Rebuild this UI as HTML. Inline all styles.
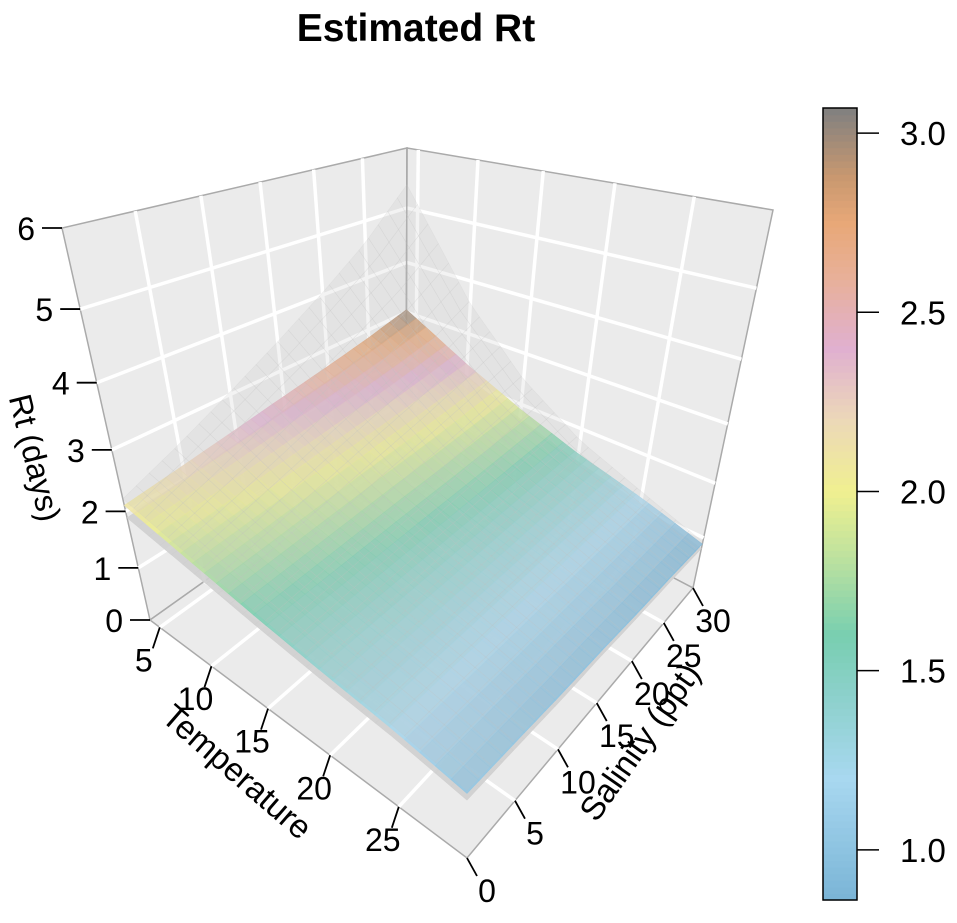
<!DOCTYPE html>
<html><head><meta charset="utf-8"><style>
body{margin:0;background:#fff;}
svg{display:block;font-family:"Liberation Sans",sans-serif;}
</style></head><body>
<svg id="chart" width="957" height="923" viewBox="0 0 957 923">
<text x="416" y="41" text-anchor="middle" font-size="39" font-weight="bold">Estimated Rt</text>
<g id="box"></g>
<g id="surf"></g>
<g id="axes"></g>
<g id="cbar"></g>
</svg>
<script>
// ---- data ----
const tempGrid = [4, 10, 15, 20, 25, 29.5];
const salGrid = [0, 5, 10, 15, 20, 25, 30];
// rows indexed by salinity, columns by temperature
const rtS0  = [2.10,1.81,1.58,1.38,1.21,1.01];
const rtS5  = [2.23,1.89,1.63,1.40,1.21,0.99];
const rtS10 = [2.37,1.98,1.68,1.42,1.20,0.96];
const rtS15 = [2.52,2.07,1.73,1.44,1.20,0.95];
const rtS20 = [2.67,2.15,1.77,1.46,1.20,0.92];
const rtS25 = [2.84,2.25,1.83,1.48,1.20,0.91];
const rtS30 = [3.05,2.37,1.89,1.50,1.20,0.88];
const upS0  = [2.21,1.90,1.66,1.45,1.27,1.06];
const upS5  = [2.60,2.12,1.78,1.50,1.28,1.04];
const upS10 = [3.04,2.37,1.91,1.55,1.28,1.01];
const upS15 = [3.52,2.63,2.04,1.60,1.29,1.00];
const upS20 = [4.04,2.89,2.17,1.66,1.29,0.97];
const upS25 = [4.63,3.19,2.32,1.71,1.30,0.96];
const upS30 = [5.40,3.58,2.50,1.77,1.31,0.92];
const loS0  = [1.89,1.63,1.42,1.24,1.09,0.91];
const loS5  = [2.01,1.70,1.47,1.26,1.09,0.89];
const loS10 = [2.13,1.78,1.51,1.28,1.08,0.86];
const loS15 = [2.27,1.86,1.56,1.30,1.08,0.86];
const loS20 = [2.40,1.94,1.59,1.31,1.08,0.83];
const loS25 = [2.56,2.03,1.65,1.33,1.08,0.82];
const loS30 = [2.75,2.13,1.70,1.35,1.08,0.79];
const zTicks = [0,1,2,3,4,5,6];
const tTicks = [5,10,15,20,25];
const sTicks = [0,5,10,15,20,25,30];
const cbTicks = ["1.0","1.5","2.0","2.5","3.0"];
const rtGrid = [rtS0,rtS5,rtS10,rtS15,rtS20,rtS25,rtS30];
const upGrid = [upS0,upS5,upS10,upS15,upS20,upS25,upS30];
const loGrid = [loS0,loS5,loS10,loS15,loS20,loS25,loS30];

const NS="http://www.w3.org/2000/svg";
function mk(tag,attrs,parent){const e=document.createElementNS(NS,tag);for(const k in attrs)e.setAttribute(k,attrs[k]);parent.appendChild(e);return e;}

// ---- projection ----
const Tmin=4,Tmax=29.5,Smax=30,Zmax=6;
const Lf=[150,620],Ff=[467,858],Rf=[693,588],Bf=[406,438];
const Lt=[62,228],Ft=[467,378],Rt=[773,210],Bt=[407,148];
function bil(a,b,c,d,u,v){return [(1-u)*(1-v)*a[0]+u*(1-v)*b[0]+u*v*c[0]+(1-u)*v*d[0],(1-u)*(1-v)*a[1]+u*(1-v)*b[1]+u*v*c[1]+(1-u)*v*d[1]];}
function warp(f,a){return f/(a-(a-1)*f);}
function P(T,S,z){
  const u=warp((T-Tmin)/(Tmax-Tmin),1.279),v=warp(S/Smax,0.742);
  const f=bil(Lf,Ff,Rf,Bf,u,v),t=bil(Lt,Ft,Rt,Bt,u,v);
  const g=warp(z/Zmax,1.304);
  return [f[0]+g*(t[0]-f[0]),f[1]+g*(t[1]-f[1])];
}
function pts(a){return a.map(p=>p[0].toFixed(1)+","+p[1].toFixed(1)).join(" ");}

// ---- box ----
const box=document.getElementById('box');
let e;
e=mk('polygon',{points:pts([P(Tmin,0,0),P(Tmin,Smax,0),P(Tmin,Smax,6),P(Tmin,0,6)]),fill:'#ebebeb',stroke:'#aaa','stroke-width':1.5},box);

e=mk('polygon',{points:pts([P(Tmin,Smax,0),P(Tmax,Smax,0),P(Tmax,Smax,6),P(Tmin,Smax,6)]),fill:'#ebebeb',stroke:'#aaa','stroke-width':1.5},box);

e=mk('polygon',{points:pts([P(Tmin,0,0),P(Tmax,0,0),P(Tmax,Smax,0),P(Tmin,Smax,0)]),fill:'#ebebeb',stroke:'#aaa','stroke-width':1.5},box);

function gl(a,b,name){const l=mk('line',{x1:a[0],y1:a[1],x2:b[0],y2:b[1],stroke:'#fff','stroke-width':3.5},box);}
for(let z=1;z<6;z++){gl(P(Tmin,0,z),P(Tmin,Smax,z),'left-wall-grid');gl(P(Tmin,Smax,z),P(Tmax,Smax,z),'right-wall-grid');}
for(let s=5;s<30;s+=5){gl(P(Tmin,s,0),P(Tmin,s,6),'left-wall-grid');gl(P(Tmin,s,0),P(Tmax,s,0),'floor-grid');}
for(let t=5;t<=25;t+=5){gl(P(t,Smax,0),P(t,Smax,6),'right-wall-grid');gl(P(t,0,0),P(t,Smax,0),'floor-grid');}
e=mk('line',{x1:P(Tmin,Smax,0)[0],y1:P(Tmin,Smax,0)[1],x2:P(Tmin,Smax,6)[0],y2:P(Tmin,Smax,6)[1],stroke:'#aaa','stroke-width':1.5},box);


// ---- surfaces ----
function interp(grid,T,S){
  let i=0;while(i<tempGrid.length-2&&T>tempGrid[i+1])i++;
  let j=0;while(j<salGrid.length-2&&S>salGrid[j+1])j++;
  const a=(T-tempGrid[i])/(tempGrid[i+1]-tempGrid[i]),b=(S-salGrid[j])/(salGrid[j+1]-salGrid[j]);
  return (1-a)*(1-b)*grid[j][i]+a*(1-b)*grid[j][i+1]+a*b*grid[j+1][i+1]+(1-a)*b*grid[j+1][i];
}
const cstops=[[0.86,[122,180,214]],[1.2,[168,216,240]],[1.45,[138,208,200]],[1.6,[120,207,176]],[1.8,[184,224,160]],[2.0,[240,240,144]],[2.2,[236,216,184]],[2.4,[224,176,208]],[2.6,[232,176,152]],[2.75,[232,168,120]],[2.88,[200,152,112]],[3.07,[128,128,128]]];
function col(v){
  if(v<=cstops[0][0])return 'rgb('+cstops[0][1]+')';
  for(let k=1;k<cstops.length;k++){if(v<=cstops[k][0]){const f=(v-cstops[k-1][0])/(cstops[k][0]-cstops[k-1][0]);const a=cstops[k-1][1],b=cstops[k][1];return 'rgb('+a.map((x,i)=>Math.round(x+(b[i]-x)*f)).join(',')+')';}}
  return 'rgb('+cstops[cstops.length-1][1]+')';
}
const surf=document.getElementById('surf');
const N=26;
function drawSurface(grid,name,fillFn,op){
  const g=mk('g',{},surf);
  
  const cells=[];
  for(let i=0;i<N;i++)for(let j=0;j<N;j++)cells.push([i,j]);
  cells.sort((a,b)=>(a[0]-a[1])-(b[0]-b[1]));
  for(const [i,j] of cells){
    const T0=Tmin+(Tmax-Tmin)*i/N,T1=Tmin+(Tmax-Tmin)*(i+1)/N,S0=Smax*j/N,S1=Smax*(j+1)/N;
    const z00=interp(grid,T0,S0),z10=interp(grid,T1,S0),z11=interp(grid,T1,S1),z01=interp(grid,T0,S1);
    const c=fillFn((z00+z10+z11+z01)/4);
    const p=mk('polygon',{points:pts([P(T0,S0,z00),P(T1,S0,z10),P(T1,S1,z11),P(T0,S1,z01)]),fill:c,stroke:c,'stroke-width':0.6,'fill-opacity':op,'stroke-opacity':op},g);
    
    
  }
}
drawSurface(loGrid,'lower-bound-surface',()=>'#cfcfcf',0.9);
drawSurface(rtGrid,'rt-surface',col,0.85);
drawSurface(upGrid,'upper-bound-surface',()=>'#c4c4c4',0.2);

// ---- axes ----
const axes=document.getElementById('axes');
function txt(x,y,s,anchor,name,extra){const t=mk('text',Object.assign({x:x,y:y,'font-size':32,'text-anchor':anchor},extra||{}),axes);t.textContent=s;return t;}
for(const z of zTicks){const p=P(Tmin,0,z);const l=mk('line',{x1:p[0],y1:p[1],x2:p[0]-20,y2:p[1],stroke:'#000','stroke-width':1.8},axes);txt(p[0]-27,p[1]+12,String(z),'end','z-tick-label');}
for(const t of tTicks){const p=P(t,0,0);const l=mk('line',{x1:p[0],y1:p[1],x2:p[0]-7,y2:p[1]+21,stroke:'#000','stroke-width':1.8},axes);txt(p[0]-16,p[1]+44,String(t),'middle','temperature-tick-label');}
for(const s of sTicks){const p=P(Tmax,s,0);const l=mk('line',{x1:p[0],y1:p[1],x2:p[0]+10,y2:p[1]+18,stroke:'#000','stroke-width':1.8},axes);txt(p[0]+20,p[1]+44,String(s),'middle','salinity-tick-label');}
txt(0,10,'Rt (days)','middle','z-axis-title',{transform:'translate(34,458) rotate(76)'});
txt(0,11,'Temperature','middle','temperature-axis-title',{transform:'translate(237,772) rotate(41)','font-size':33});
txt(0,11,'Salinity (ppt)','middle','salinity-axis-title',{transform:'translate(640,742) rotate(-55)','font-size':33});

// ---- colorbar ----
const cb=document.getElementById('cbar');
const cbTop=108,cbBot=900,cbX=823,cbW=34,vTop=3.07,vBot=0.86;
function cy(v){return cbBot-(v-vBot)/(vTop-vBot)*(cbBot-cbTop);}
for(let k=0;k<120;k++){const v0=vBot+(vTop-vBot)*k/120,v1=vBot+(vTop-vBot)*(k+1)/120;const r=mk('rect',{x:cbX,y:cy(v1),width:cbW,height:cy(v0)-cy(v1)+0.6,fill:col((v0+v1)/2)},cb);}
e=mk('rect',{x:cbX,y:cbTop,width:cbW,height:cbBot-cbTop,fill:'none',stroke:'#000','stroke-width':1.5},cb);

for(const s of cbTicks){const y=cy(parseFloat(s));const l=mk('line',{x1:cbX+cbW,y1:y,x2:cbX+cbW+22,y2:y,stroke:'#000','stroke-width':1.5},cb);const t=mk('text',{x:900,y:y+12,'font-size':33},cb);t.textContent=s;}
</script>
</body></html>
